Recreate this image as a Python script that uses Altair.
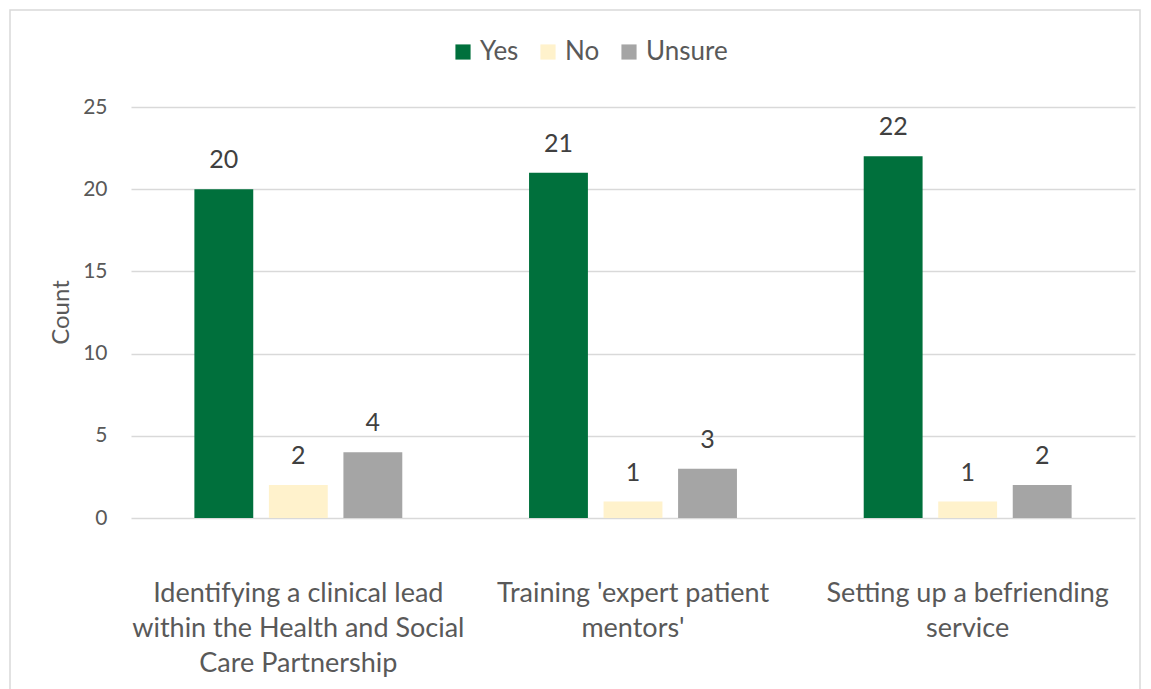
import altair as alt
import pandas as pd

categories = [
    "Identifying a clinical lead within the Health and Social Care Partnership",
    "Training 'expert patient mentors'",
    "Setting up a befriending service",
]
responses = ["Yes", "No", "Unsure"]
yes_vals = [20, 21, 22]
no_vals = [2, 1, 1]
unsure_vals = [4, 3, 2]
colors = ["#00703c", "#fff2cc", "#a5a5a5"]

rows = []
for i, c in enumerate(categories):
    for r, v in zip(responses, [yes_vals[i], no_vals[i], unsure_vals[i]]):
        rows.append({"Category": c, "Response": r, "Count": v})
df = pd.DataFrame(rows)

FONT = "Lato"
label_expr = (
    "datum.label == '" + categories[0].replace("'", "\\'") + "' ? ['Identifying a clinical lead', 'within the Health and Social', 'Care Partnership'] : "
    "datum.label == '" + categories[1].replace("'", "\\'") + "' ? ['Training \\'expert patient', 'mentors\\''] : "
    "['Setting up a befriending', 'service']"
)

x = alt.X(
    "Category:N",
    sort=categories,
    title=None,
    scale=alt.Scale(paddingInner=0.332, paddingOuter=0.166),
    axis=alt.Axis(
        labelExpr=label_expr,
        labelAngle=0,
        labelFont=FONT,
        labelFontSize=27,
        labelColor="#595959",
        labelPadding=62,
        labelLineHeight=35,
        labelLimit=400,
        ticks=False,
        domain=False,
        grid=False,
    ),
)

base = alt.Chart(df).encode(
    x=x,
    xOffset=alt.XOffset("Response:N", sort=responses,
                        scale=alt.Scale(paddingInner=0.21, paddingOuter=0.105)),
    y=alt.Y(
        "Count:Q",
        scale=alt.Scale(domain=[0, 25]),
        title="Count",
        axis=alt.Axis(
            values=[0, 5, 10, 15, 20, 25],
            labelFont=FONT,
            labelFontSize=21,
            labelColor="#595959",
            labelPadding=24,
            titleFont=FONT,
            titleFontSize=24,
            titleFontWeight="normal",
            titleColor="#595959",
            titleX=-70,
            titleY=205,
            titleBaseline="middle",
            ticks=False,
            domain=False,
            gridColor="#d9d9d9",
            gridWidth=1.5,
        ),
    ),
)

bars = base.mark_bar().encode(
    color=alt.Color(
        "Response:N",
        sort=responses,
        scale=alt.Scale(domain=responses, range=colors),
        legend=alt.Legend(
            title=None,
            orient="none",
            legendX=319,
            legendY=-68,
            direction="horizontal",
            symbolType="square",
            symbolSize=230,
            symbolStrokeWidth=0,
            labelFont=FONT,
            labelFontSize=26,
            labelColor="#595959",
            columnPadding=16,
            labelOffset=4,
        ),
    )
)

labels = base.mark_text(
    baseline="bottom", dy=-16, font=FONT, fontSize=25, color="#404040"
).encode(text="Count:Q")

frame = alt.Chart(pd.DataFrame({"a": [0]})).mark_rect(
    fill=None, stroke="#d9d9d9", strokeWidth=1.5, clip=False
).encode(
    x=alt.value(-121), x2=alt.value(1009),
    y=alt.value(-97), y2=alt.value(600),
)

chart = alt.layer(frame, bars, labels).properties(
    width=1004,
    height=411,
    autosize=alt.AutoSizeParams(type="none"),
    padding={"left": 131, "top": 107, "right": 16, "bottom": 171},
).configure(background="white").configure_view(stroke=None)

chart.save("out.html", embed_options={"renderer": "svg", "actions": False})
